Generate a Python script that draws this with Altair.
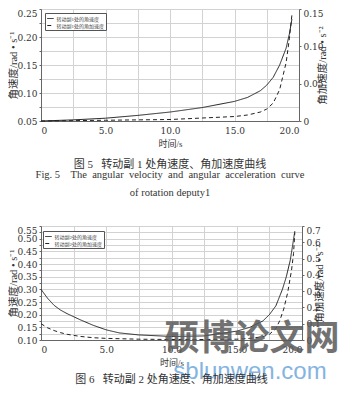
import altair as alt
import pandas as pd

FONT = "Liberation Serif, Noto Sans CJK SC, serif"
NUMFONT = "DejaVu Serif, Noto Sans CJK SC, serif"
TXT = "#333333"

# ---- Figure 5 : rotation pair 1 ----
t1 = [0, 2.5, 5, 7.5, 10, 12.5, 15, 16, 17, 17.5, 18, 18.5, 19, 19.25, 19.45]
vel1 = [0.050, 0.052, 0.055, 0.060, 0.066, 0.074, 0.085, 0.092, 0.104, 0.114,
        0.128, 0.150, 0.180, 0.205, 0.232]
acc1 = [0.000, 0.0005, 0.001, 0.0015, 0.002, 0.004, 0.006, 0.008, 0.012, 0.016,
        0.024, 0.042, 0.078, 0.110, 0.142]
names1 = ["转动副1处的角速度", "转动副1处的角加速度"]

# ---- Figure 6 : rotation pair 2 ----
t2 = [0, 0.5, 1, 1.5, 2, 3, 4, 5, 6, 7.5, 10, 12.5, 15, 16, 17, 17.5, 18,
      18.5, 18.8, 19.1, 19.3, 19.45]
vel2 = [0.300, 0.265, 0.237, 0.218, 0.204, 0.180, 0.158, 0.140, 0.128, 0.120,
        0.114, 0.116, 0.135, 0.150, 0.175, 0.200, 0.235, 0.300, 0.350, 0.415,
        0.480, 0.530]
t2a = [0, 0.5, 1, 1.5, 2, 3, 4, 5, 7.5, 10, 12.5, 15, 16, 17, 17.5, 18, 18.3,
       18.6, 18.9, 19.2, 19.35, 19.45]
acc2 = [0.100, 0.075, 0.058, 0.045, 0.035, 0.022, 0.014, 0.010, 0.005, 0.003,
        0.003, 0.005, 0.010, 0.020, 0.035, 0.070, 0.120, 0.190, 0.290, 0.430,
        0.530, 0.660]
names2 = ["转动副2处的角速度", "转动副2处的角加速度"]

# ---- watermark of the scanned source ----
watermark_cn = ["硕博论文网"]
watermark_url = ["sblunwen.com"]

x_ticks = [0, 2.5, 5, 7.5, 10, 12.5, 15, 17.5, 20]
left1_ticks = [round(0.05 + 0.025 * i, 3) for i in range(9)]
right1_ticks = [0, 0.05, 0.10, 0.15]
left2_ticks = [round(0.10 + 0.025 * i, 3) for i in range(19)]
right2_ticks = [round(0.1 * i, 1) for i in range(8)]

PAD = "\u00a0" * 34


def panel(t_v, vel, t_a, acc, names, left_dom, left_ticks, right_dom, right_ticks,
          right_fmt, leg_x, leg_y, width, height, title, extra=()):
    dv = pd.DataFrame({"t": t_v, "v": vel, "s": names[0]})
    da = pd.DataFrame({"t": t_a, "a": acc})
    dash = alt.StrokeDash(
        "s:N",
        scale=alt.Scale(domain=names, range=[[1, 0], [4, 3]]),
        legend=alt.Legend(
            title=None, orient="none", legendX=leg_x, legendY=leg_y,
            symbolType="stroke", symbolSize=42, symbolStrokeWidth=1,
            symbolStrokeColor="#222222",
            labelFont=FONT, labelFontSize=5, labelColor="#444444",
            labelExpr="datum.label + '" + PAD + "'",
            rowPadding=0, padding=1.5, labelOffset=2,
            strokeColor="#555555", fillColor="white", cornerRadius=0,
        ),
    )
    x = alt.X(
        "t:Q",
        scale=alt.Scale(domain=[0, 20], nice=False),
        axis=alt.Axis(
            values=x_ticks, title="时间/s", ticks=False, labelOverlap=False,
            labelExpr="datum.value % 5 == 0 ? (datum.value == 0 ? '0' : format(datum.value, '.1f')) : ''",
            labelPadding=5, titlePadding=4, titleFontSize=9,
        ),
    )
    top_left = left_dom[1] - 0.001
    top_right = right_dom[1] - 0.001
    left = alt.Chart(dv).mark_line(color="#222222", strokeWidth=1).encode(
        x=x,
        y=alt.Y(
            "v:Q",
            scale=alt.Scale(domain=left_dom, nice=False, zero=False),
            axis=alt.Axis(
                values=left_ticks, title="角速度/rad • s⁻¹", labelOverlap=False,
                labelExpr="abs(datum.value*20 - round(datum.value*20)) < 0.001 ? format(datum.value, '.2f') : ''",
                labelOffset={"condition": {"test": f"datum.value >= {top_left}", "value": 4}, "value": 0},
                tickSize=2, labelPadding=2, titlePadding=-2,
            ),
        ),
        strokeDash=dash,
    )
    right = alt.Chart(da).mark_line(color="#222222", strokeWidth=1, strokeDash=[4, 3]).encode(
        x=x,
        y=alt.Y(
            "a:Q",
            scale=alt.Scale(domain=right_dom, nice=False),
            axis=alt.Axis(
                orient="right", values=right_ticks, grid=False, labelOverlap=False,
                title="角加速度/rad • s⁻²", titleAngle=270,
                labelExpr="datum.value == 0 ? '0' : format(datum.value, '" + right_fmt + "')",
                labelOffset={"condition": {"test": f"datum.value >= {top_right}", "value": 4}, "value": 0},
                tickSize=2, labelPadding=2, titlePadding=4,
            ),
        ),
    )
    return alt.layer(left, right, *extra).resolve_scale(y="independent").properties(
        width=width, height=height, title=title
    )


NB = "\u00a0"
title1 = alt.TitleParams(
    text="图 5" + NB * 3 + "转动副 1 处角速度、角加速度曲线",
    subtitle=["Fig. 5" + NB * 4 + "The" + NB + " angular" + NB + " velocity" + NB + " and" + NB
              + " angular" + NB + " acceleration" + NB + " curve",
              "of rotation deputy1"],
    orient="bottom", anchor="middle", frame="group", offset=11,
    font=FONT, fontSize=11, fontWeight="normal", color=TXT,
    subtitleFont=FONT, subtitleFontSize=10.5, subtitleColor=TXT,
    subtitlePadding=0, subtitleLineHeight=18,
)
title2 = alt.TitleParams(
    text="图 6" + NB * 3 + "转动副 2 处角速度、角加速度曲线",
    orient="bottom", anchor="middle", frame="group", offset=-10,
    font=FONT, fontSize=11, fontWeight="normal", color=TXT,
)

wm1 = alt.Chart(pd.DataFrame({"w": watermark_cn})).mark_text(
    font="Noto Sans CJK SC", fontSize=35, fontWeight="bold", color="#5a5a5a",
    opacity=0.85, align="center", baseline="middle",
).encode(text="w:N", x=alt.value(211), y=alt.value(113))
wm2 = alt.Chart(pd.DataFrame({"w": watermark_url})).mark_text(
    font="Liberation Sans", fontSize=24, color="#5b9bd8", opacity=0.75,
    align="center", baseline="alphabetic",
).encode(text="w:N", x=alt.value(209), y=alt.value(153))

c1 = panel(t1, vel1, t1, acc1, names1, [0.05, 0.25], left1_ticks,
           [0, 0.15], right1_ticks, ".2f", 4, 4, 258, 112, title1)
c2 = panel(t2, vel2, t2a, acc2, names2, [0.10, 0.55], left2_ticks,
           [0, 0.7], right2_ticks, ".1f", 2, 5, 261, 114, title2, extra=(wm1, wm2))

chart = alt.vconcat(c1, c2, spacing=26).resolve_scale(
    strokeDash="independent"
).resolve_legend(strokeDash="independent").configure(
    padding={"left": 0, "top": 0, "right": 2, "bottom": 0},
    font=FONT, background="white",
).configure_view(stroke=None).configure_axis(
    labelFont=NUMFONT, labelFontSize=9, labelColor=TXT,
    titleFont=FONT, titleFontSize=10.5, titleFontWeight="normal", titleColor=TXT,
    domainColor="#666666", tickColor="#666666", gridColor="#d2d2d2", gridWidth=1,
)

chart.save("out.html", embed_options={"renderer": "svg", "actions": False})
